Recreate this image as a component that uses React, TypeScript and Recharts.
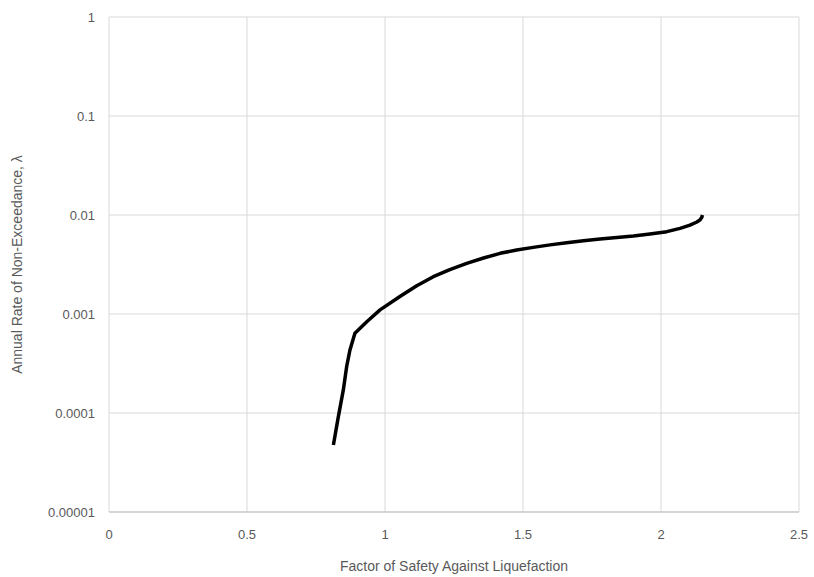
import React from "react";
import {
  LineChart,
  Line,
  XAxis,
  YAxis,
  CartesianGrid,
  Label,
} from "recharts";

// Factor of safety vs. annual rate of non-exceedance
const factorOfSafety = [
  0.813, 0.831, 0.849, 0.861, 0.873, 0.891, 0.934, 0.982, 1.054, 1.115, 1.175,
  1.235, 1.296, 1.357, 1.417, 1.477, 1.537, 1.598, 1.658, 1.719, 1.779, 1.84,
  1.9, 1.96, 2.021, 2.069, 2.105, 2.13, 2.141, 2.148, 2.15,
];
const annualRate = [
  0.0000475, 0.000092, 0.000171, 0.000294, 0.000433, 0.000638, 0.000836,
  0.0011, 0.0015, 0.00193, 0.00238, 0.0028, 0.00325, 0.00368, 0.0041, 0.00443,
  0.00471, 0.00499, 0.00525, 0.0055, 0.00572, 0.00592, 0.00614, 0.00643,
  0.00679, 0.00733, 0.0079, 0.0085, 0.0089, 0.0095, 0.01,
];

const xTicks = [0, 0.5, 1, 1.5, 2, 2.5];
const yTicks = [0.00001, 0.0001, 0.001, 0.01, 0.1, 1];
const yTickLabels = ["0.00001", "0.0001", "0.001", "0.01", "0.1", "1"];

const data = factorOfSafety.map((fs, i) => ({ fs, rate: annualRate[i] }));

const labelFont = "'Liberation Sans', Arial, sans-serif";

export default function App() {
  return (
    <div style={{ position: "absolute", left: 0, top: 0, background: "#fff" }}>
      <LineChart
        width={814}
        height={577}
        data={data}
        margin={{ top: 17, right: 15, bottom: 0, left: 0 }}
      >
        <CartesianGrid stroke="#d9d9d9" strokeWidth={1} />
        <XAxis
          dataKey="fs"
          type="number"
          domain={[0, 2.5]}
          ticks={xTicks}
          height={65}
          tickLine={false}
          tickSize={0}
          tickMargin={18}
          stroke="#bfbfbf"
          tick={{ fill: "#595959", fontSize: 13, fontFamily: labelFont }}
          tickFormatter={(v) => String(v)}
        >
          <Label
            value="Factor of Safety Against Liquefaction"
            position="insideBottom"
            offset={6}
            style={{ fill: "#595959", fontSize: 14, fontFamily: labelFont }}
          />
        </XAxis>
        <YAxis
          dataKey="rate"
          scale="log"
          domain={[0.00001, 1]}
          ticks={yTicks}
          allowDataOverflow
          width={109}
          axisLine={false}
          tickLine={false}
          tickSize={0}
          tickMargin={14}
          tick={{ fill: "#595959", fontSize: 13, fontFamily: labelFont }}
          tickFormatter={(v) => yTickLabels[yTicks.indexOf(v)] ?? String(v)}
        >
          <Label
            value="Annual Rate of Non-Exceedance, λ"
            angle={-90}
            position="insideLeft"
            offset={17}
            style={{
              fill: "#595959",
              fontSize: 14,
              fontFamily: labelFont,
              textAnchor: "middle",
            }}
          />
        </YAxis>
        <Line
          type="linear"
          dataKey="rate"
          stroke="#000"
          strokeWidth={3.5}
          strokeLinejoin="round"
          dot={false}
          isAnimationActive={false}
        />
      </LineChart>
    </div>
  );
}
